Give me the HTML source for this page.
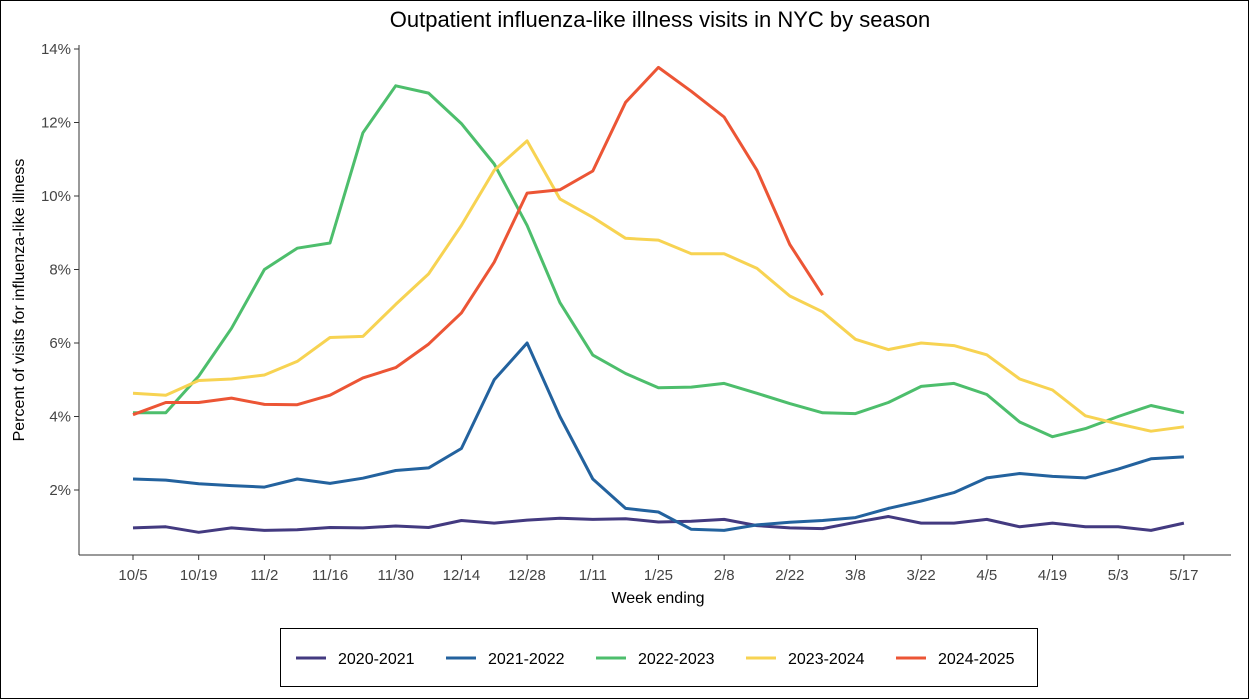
<!DOCTYPE html>
<html><head><meta charset="utf-8"><style>
html,body{margin:0;padding:0;background:#fff;}
svg{display:block;font-family:"Liberation Sans",sans-serif;}
</style></head><body>
<svg id="s" width="1249" height="699" viewBox="0 0 1249 699" xmlns="http://www.w3.org/2000/svg">
<rect x="0.5" y="0.5" width="1248" height="698" fill="#fff" stroke="#000"/>
<text x="660" y="27" font-size="22" text-anchor="middle" fill="#000">Outpatient influenza-like illness visits in NYC by season</text>
<line x1="79" y1="45" x2="79" y2="555" stroke="#333" stroke-width="1"/>
<line x1="79" y1="555" x2="1231" y2="555" stroke="#333" stroke-width="1"/>
<text transform="translate(24,300) rotate(-90)" font-size="16" text-anchor="middle" fill="#000">Percent of visits for influenza-like illness</text>
<text x="658" y="603" font-size="16" text-anchor="middle" fill="#000">Week ending</text>
<g id="ax"></g>
<g id="lines" fill="none" stroke-width="3" stroke-linejoin="round"></g>
<rect x="280.5" y="628.5" width="757" height="58" fill="#fff" stroke="#000"/>
<g font-size="16" fill="#000">
<line x1="296" y1="658" x2="326" y2="658" stroke="#433A80" stroke-width="3"/><text x="338" y="664">2020-2021</text>
<line x1="446" y1="658" x2="476" y2="658" stroke="#23629E" stroke-width="3"/><text x="488" y="664">2021-2022</text>
<line x1="596" y1="658" x2="626" y2="658" stroke="#4DBE6C" stroke-width="3"/><text x="638" y="664">2022-2023</text>
<line x1="746" y1="658" x2="776" y2="658" stroke="#F7D352" stroke-width="3"/><text x="788" y="664">2023-2024</text>
<line x1="896" y1="658" x2="926" y2="658" stroke="#EC5535" stroke-width="3"/><text x="938" y="664">2024-2025</text>
</g>
</svg>
<script>
var NS="http://www.w3.org/2000/svg";
function X(i){return 133+i*32.84;}
function Y(v){return 563.5-v*36.75;}
var ax=document.getElementById('ax'),h='';
for(var p=2;p<=14;p+=2){var y=Y(p);h+='<line x1="74" x2="79" y1="'+y+'" y2="'+y+'" stroke="#333"/><text x="71" y="'+(y+5)+'" font-size="15" text-anchor="end" fill="#444">'+p+'%</text>';}
var lab=["10/5","10/19","11/2","11/16","11/30","12/14","12/28","1/11","1/25","2/8","2/22","3/8","3/22","4/5","4/19","5/3","5/17"];
for(var i=0;i<lab.length;i++){var x=X(i*2);h+='<line x1="'+x+'" x2="'+x+'" y1="555" y2="560" stroke="#333"/><text x="'+x+'" y="580" font-size="15" text-anchor="middle" fill="#444">'+lab[i]+'</text>';}
ax.innerHTML=h;
var D=[
["#433A80",[0.97,1.0,0.85,0.97,0.9,0.92,0.98,0.97,1.02,0.98,1.17,1.1,1.18,1.23,1.2,1.22,1.13,1.15,1.2,1.03,0.97,0.95,1.12,1.28,1.1,1.1,1.2,1.0,1.1,1.0,1.0,0.9,1.1]],
["#23629E",[2.3,2.27,2.17,2.12,2.08,2.3,2.18,2.32,2.53,2.6,3.13,5.0,6.0,4.0,2.3,1.5,1.4,0.93,0.9,1.05,1.12,1.17,1.25,1.5,1.7,1.93,2.33,2.45,2.37,2.33,2.57,2.85,2.9]],
["#4DBE6C",[4.1,4.1,5.1,6.4,8.0,8.58,8.72,11.72,13.0,12.8,11.97,10.87,9.2,7.1,5.67,5.17,4.78,4.8,4.9,4.63,4.35,4.1,4.08,4.38,4.82,4.9,4.6,3.85,3.45,3.67,4.0,4.3,4.1]],
["#F7D352",[4.63,4.58,4.98,5.02,5.13,5.5,6.15,6.18,7.05,7.88,9.2,10.7,11.5,9.92,9.42,8.85,8.8,8.43,8.43,8.03,7.28,6.85,6.1,5.82,6.0,5.93,5.68,5.02,4.72,4.02,3.8,3.6,3.72]],
["#EC5535",[4.05,4.38,4.38,4.5,4.33,4.32,4.58,5.05,5.33,5.97,6.82,8.2,10.08,10.17,10.68,12.55,13.5,12.85,12.15,10.7,8.68,7.3]]
];
var g=document.getElementById('lines'),s='';
D.forEach(function(d){var pts=d[1].map(function(v,i){return X(i).toFixed(1)+','+Y(v).toFixed(1);}).join(' ');s+='<polyline stroke="'+d[0]+'" points="'+pts+'"/>';});
g.innerHTML=s;
</script>
</body></html>
